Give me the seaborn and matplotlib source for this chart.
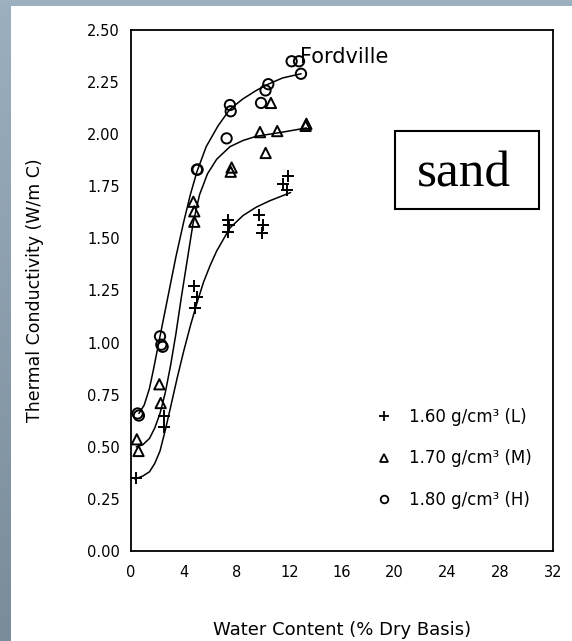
import numpy as np
import pandas as pd
import matplotlib
matplotlib.use("Agg")
import matplotlib.pyplot as plt
import seaborn as sns
from matplotlib.lines import Line2D
from matplotlib.patches import Rectangle
from matplotlib.colors import LinearSegmentedColormap

# ---------------- data ----------------
low_x = [0.38, 2.48, 2.51, 4.80, 4.98, 4.85, 7.38, 7.45, 7.38, 9.73, 10.03, 9.96, 11.55, 11.80, 11.93]
low_y = [0.35, 0.65, 0.595, 1.27, 1.22, 1.165, 1.59, 1.565, 1.53, 1.61, 1.565, 1.525, 1.76, 1.73, 1.80]

med_x = [0.44, 0.57, 2.15, 2.25, 4.73, 4.80, 4.80, 7.56, 7.63, 9.78, 10.21, 10.61, 11.09, 13.24, 13.30]
med_y = [0.536, 0.48, 0.80, 0.71, 1.676, 1.63, 1.58, 1.82, 1.84, 2.01, 1.91, 2.15, 2.015, 2.04, 2.05]

high_x = [0.50, 0.60, 2.20, 2.30, 2.40, 5.00, 5.05, 7.25, 7.50, 7.56, 9.86, 10.20, 10.41, 12.18, 12.74, 12.89]
high_y = [0.66, 0.65, 1.03, 0.99, 0.98, 1.83, 1.83, 1.98, 2.14, 2.11, 2.15, 2.21, 2.24, 2.35, 2.35, 2.29]

# fitted curves
high_curve_x = [0.6, 1.0, 1.4, 1.7, 2.2, 2.8, 3.4, 4.0, 4.5, 5.0, 5.7, 6.6, 7.5, 8.5, 9.5, 10.4, 11.5, 12.9]
high_curve_y = [0.66, 0.70, 0.78, 0.87, 1.03, 1.22, 1.41, 1.58, 1.71, 1.82, 1.94, 2.04, 2.12, 2.17, 2.21, 2.24, 2.27, 2.29]

med_curve_x = [0.4, 0.9, 1.4, 1.8, 2.2, 2.6, 3.0, 3.4, 3.8, 4.2, 4.7, 5.2, 5.8, 6.5, 7.5, 8.5, 9.5, 10.5, 11.5, 13.3]
med_curve_y = [0.50, 0.51, 0.54, 0.59, 0.66, 0.76, 0.89, 1.04, 1.21, 1.37, 1.57, 1.71, 1.81, 1.88, 1.94, 1.97, 1.99, 2.00, 2.01, 2.03]

low_curve_x = [0.3, 0.9, 1.4, 1.8, 2.2, 2.6, 3.0, 3.5, 4.0, 4.5, 5.0, 5.5, 6.0, 6.5, 7.5, 8.5, 9.5, 10.5, 11.3, 12.1]
low_curve_y = [0.345, 0.36, 0.38, 0.42, 0.48, 0.58, 0.69, 0.83, 0.96, 1.08, 1.19, 1.29, 1.37, 1.44, 1.55, 1.61, 1.65, 1.68, 1.70, 1.72]

series_labels = ["1.60 g/cm³ (L)", "1.70 g/cm³ (M)", "1.80 g/cm³ (H)"]
x_ticks = [0, 4, 8, 12, 16, 20, 24, 28, 32]
y_ticks = [0.00, 0.25, 0.50, 0.75, 1.00, 1.25, 1.50, 1.75, 2.00, 2.25, 2.50]

# ---------------- style ----------------
sns.set_theme(style="white")
plt.rcParams['font.family'] = ['DejaVu Sans']
plt.rcParams['text.color'] = 'black'
plt.rcParams['axes.labelcolor'] = 'black'
plt.rcParams['xtick.color'] = 'black'
plt.rcParams['ytick.color'] = 'black'

fig = plt.figure(figsize=(5.72, 6.41), dpi=100, facecolor="white")

# slide-style grey border strips
strip_ax = fig.add_axes([0, 0, 11 / 572, 1])
grad = np.linspace(0, 1, 256).reshape(-1, 1)
cmap = LinearSegmentedColormap.from_list("strip", ["#9cafbf", "#7a8c99"])
strip_ax.imshow(grad, aspect="auto", cmap=cmap, extent=[0, 1, 0, 1])
strip_ax.set_axis_off()
top_ax = fig.add_axes([0, 1 - 6 / 641, 1, 6 / 641])
top_ax.set_facecolor("#9cb0c0")
top_ax.set_xticks([]); top_ax.set_yticks([])
for s in top_ax.spines.values():
    s.set_visible(False)

ax = fig.add_axes([131 / 572, 1 - 551 / 641, (553 - 131) / 572, (551 - 30) / 641])
ax.set_facecolor("white")

line_kw = dict(color="black", linewidth=1.1, legend=False)
sns.lineplot(x=high_curve_x, y=high_curve_y, ax=ax, **line_kw)
sns.lineplot(x=med_curve_x, y=med_curve_y, ax=ax, **line_kw)
sns.lineplot(x=low_curve_x, y=low_curve_y, ax=ax, **line_kw)

sns.scatterplot(x=low_x, y=low_y, ax=ax, marker="+", s=70, color="black", linewidth=1.4, zorder=3)
sns.scatterplot(x=med_x, y=med_y, ax=ax, marker="^", s=55, facecolor="none", edgecolor="black", linewidth=1.4, zorder=3)
sns.scatterplot(x=high_x, y=high_y, ax=ax, marker="o", s=55, facecolor="none", edgecolor="black", linewidth=1.4, zorder=3)

ax.set_xlim(0, 32)
ax.set_ylim(0, 2.5)
ax.set_xticks(x_ticks)
ax.set_xticklabels([str(t) for t in x_ticks])
ax.set_yticks(y_ticks)
ax.set_yticklabels([f"{t:.2f}" for t in y_ticks])
ax.tick_params(axis="both", direction="in", length=7, width=1.2, color="black",
               labelsize=10.5, labelcolor="black", top=False, right=False)
ax.tick_params(axis="x", pad=10)
ax.tick_params(axis="y", pad=8)
for s in ax.spines.values():
    s.set_visible(True)
    s.set_color("black")
    s.set_linewidth(1.3)

ax.set_xlabel("Water Content (% Dry Basis)", fontsize=13, color="black")
ax.set_ylabel("Thermal Conductivity (W/m C)", fontsize=12.5, color="black")
ax.xaxis.set_label_coords(0.5, (551 - 630) / 521)
ax.xaxis.label.set_va("center")
ax.yaxis.set_label_coords((35 - 131) / 422, 0.5)
ax.yaxis.label.set_va("center")

ax.text(12.85, 2.37, "Fordville", fontsize=15, ha="left", va="center", color="black")

# "sand" box
ax.add_patch(Rectangle((0.626, 0.656), 0.341, 0.150, transform=ax.transAxes,
                       facecolor="white", edgecolor="black", linewidth=1.5, zorder=4))
ax.text(0.789, 0.699, "sand", transform=ax.transAxes, fontsize=37, ha="center",
        va="baseline", color="black", family=["Liberation Serif", "DejaVu Serif"], zorder=5)

handles = [
    Line2D([], [], linestyle="none", marker="+", markersize=7, color="black", markeredgewidth=1.3),
    Line2D([], [], linestyle="none", marker="^", markersize=5.5, markerfacecolor="none", markeredgecolor="black", markeredgewidth=1.3),
    Line2D([], [], linestyle="none", marker="o", markersize=5.5, markerfacecolor="none", markeredgecolor="black", markeredgewidth=1.3),
]
ax.legend(handles, series_labels, loc="upper left", bbox_to_anchor=((376 - 131) / 422, (551 - 408) / 521),
          frameon=False, fontsize=12, handlelength=1.0, handletextpad=1.0, labelspacing=1.4,
          borderpad=0, borderaxespad=0, labelcolor="black")

fig.savefig("out.png", dpi=100, facecolor="white")
